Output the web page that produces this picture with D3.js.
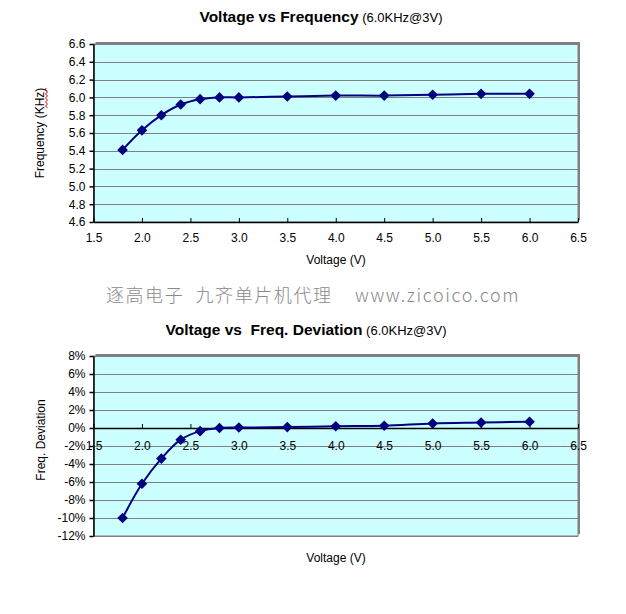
<!DOCTYPE html>
<html><head><meta charset="utf-8">
<script src="https://cdn.jsdelivr.net/npm/d3@7"></script>
<style>body{margin:0;background:#fff}svg{display:block;font-family:"Liberation Sans",Arial,sans-serif}</style>
</head><body>
<script>
const voltages = [1.8, 2.0, 2.2, 2.4, 2.6, 2.8, 3.0, 3.5, 4.0, 4.5, 5.0, 5.5, 6.0];
const frequencyKHz = [5.41, 5.63, 5.80, 5.92, 5.98, 6.00, 6.00, 6.01, 6.02, 6.02, 6.03, 6.04, 6.04];
const deviationPct = [-10.0, -6.2, -3.4, -1.3, -0.35, 0.0, 0.05, 0.1, 0.2, 0.25, 0.5, 0.6, 0.7];
const xTicks = [1.5, 2.0, 2.5, 3.0, 3.5, 4.0, 4.5, 5.0, 5.5, 6.0, 6.5];
const freqTicks = [4.6, 4.8, 5.0, 5.2, 5.4, 5.6, 5.8, 6.0, 6.2, 6.4, 6.6];
const devTicks = [-12, -10, -8, -6, -4, -2, 0, 2, 4, 6, 8];

const W = 626, H = 614;
const svg = d3.select("body").append("svg").attr("width", W).attr("height", H);
const navy = "#000080";

function panel(cfg) {
  const g = svg.append("g");
  const x = d3.scaleLinear().domain([1.5, 6.5]).range([93.5, 578]);
  const y = d3.scaleLinear().domain(cfg.yDomain).range([cfg.bottom, cfg.top]);
  g.append("rect").attr("x", x.range()[0] + 2).attr("y", cfg.top - 2)
    .attr("width", x.range()[1] - x.range()[0]).attr("height", cfg.bottom - cfg.top)
    .attr("fill", "#808080");
  g.append("rect").attr("x", x.range()[0]).attr("y", cfg.top)
    .attr("width", x.range()[1] - x.range()[0]).attr("height", cfg.bottom - cfg.top)
    .attr("fill", "#CCFFFF").attr("stroke", "#808080").attr("stroke-width", 1);
  g.append("g").selectAll("line").data(cfg.yTicks).join("line")
    .attr("x1", x.range()[0]).attr("x2", x.range()[1])
    .attr("y1", d => Math.round(y(d)) + 0.5).attr("y2", d => Math.round(y(d)) + 0.5)
    .attr("stroke", "#808080").attr("stroke-width", 1);
  const ya = g.append("g").attr("transform", `translate(${x.range()[0]},0)`)
    .call(d3.axisLeft(y).tickValues(cfg.yTicks).tickFormat(cfg.yFormat).tickSize(4).tickSizeOuter(0));
  ya.select(".domain").attr("stroke", "#000").attr("stroke-width", 1.5);
  ya.selectAll(".tick line").attr("stroke", "#000").attr("stroke-width", 1.5);
  ya.selectAll("text").attr("font-size", 12).attr("fill", "#000").attr("x", -8)
    .attr("font-family", '"Liberation Sans",Arial,sans-serif');
  const xa = g.append("g").attr("transform", `translate(0,${cfg.xAxisY})`)
    .call(d3.axisBottom(x).tickValues(xTicks).tickFormat(d3.format(".1f")).tickSize(-4).tickSizeOuter(0));
  xa.select(".domain").attr("stroke", "#000").attr("stroke-width", 1.5);
  xa.selectAll(".tick line").attr("stroke", "#000").attr("stroke-width", 1);
  xa.selectAll("text").attr("font-size", 12).attr("fill", "#000").attr("y", cfg.xLabelDy).attr("dy", "0.35em")
    .attr("font-family", '"Liberation Sans",Arial,sans-serif');
  const pts = voltages.map((v, i) => [x(v), y(cfg.values[i])]);
  g.append("path").attr("d", d3.line().curve(d3.curveCatmullRom.alpha(0.5))(pts))
    .attr("fill", "none").attr("stroke", navy).attr("stroke-width", 2);
  g.append("g").selectAll("path").data(pts).join("path")
    .attr("d", d3.symbol(d3.symbolDiamond2, 72)())
    .attr("transform", d => `translate(${d[0]},${d[1]})`)
    .attr("fill", navy);
  const t = svg.append("text").attr("x", cfg.titleX).attr("y", cfg.titleY).attr("text-anchor", "middle")
    .attr("xml:space", "preserve").style("white-space", "pre");
  t.append("tspan").attr("font-weight", "bold").attr("font-size", 15.5).text(cfg.title);
  t.append("tspan").attr("font-size", 13).text(" (6.0KHz@3V)");
  svg.append("text").attr("transform", `translate(${cfg.yLabelX},${cfg.yLabelY}) rotate(-90)`)
    .attr("text-anchor", "middle").attr("font-size", 12).text(cfg.yLabel);
  svg.append("text").attr("x", 336).attr("y", cfg.xLabelY).attr("text-anchor", "middle")
    .attr("font-size", 12).text("Voltage (V)");
  return {x, y};
}

panel({
  yDomain: [4.6, 6.6], top: 44, bottom: 222, yTicks: freqTicks, yFormat: d3.format(".1f"),
  xAxisY: 222, xLabelDy: 16, values: frequencyKHz,
  title: "Voltage vs Frequency", titleX: 321, titleY: 22,
  yLabel: "Frequency (KHz)", yLabelX: 44, yLabelY: 133, xLabelY: 264
});
(function () {
  const xx = 46, y0 = 88, y1 = 108;
  let d = `M${xx},${y0}`;
  for (let yy = y0, k = 0; yy < y1; yy += 2, k++) d += ` L${xx + (k % 2 ? 1.5 : -0.5)},${yy + 2}`;
  svg.append("path").attr("d", d).attr("fill", "none").attr("stroke", "#e00000").attr("stroke-width", 1);
})();

svg.append("text").attr("x", 313).attr("y", 302).attr("text-anchor", "middle")
  .attr("font-size", 18).attr("fill", "#8a8a8a").attr("font-weight", 300)
  .attr("letter-spacing", 1.6)
  .attr("font-family", '"Noto Sans CJK SC","Liberation Sans",sans-serif')
  .attr("xml:space", "preserve").style("white-space", "pre")
  .text("逐高电子  九齐单片机代理    www.zicoico.com");

panel({
  yDomain: [-12, 8], top: 356, bottom: 536, yTicks: devTicks, yFormat: d => d + "%",
  xAxisY: 428, xLabelDy: 18, values: deviationPct,
  title: "Voltage vs  Freq. Deviation", titleX: 306, titleY: 335,
  yLabel: "Freq. Deviation", yLabelX: 45, yLabelY: 440, xLabelY: 562
});
</script>
</body></html>
